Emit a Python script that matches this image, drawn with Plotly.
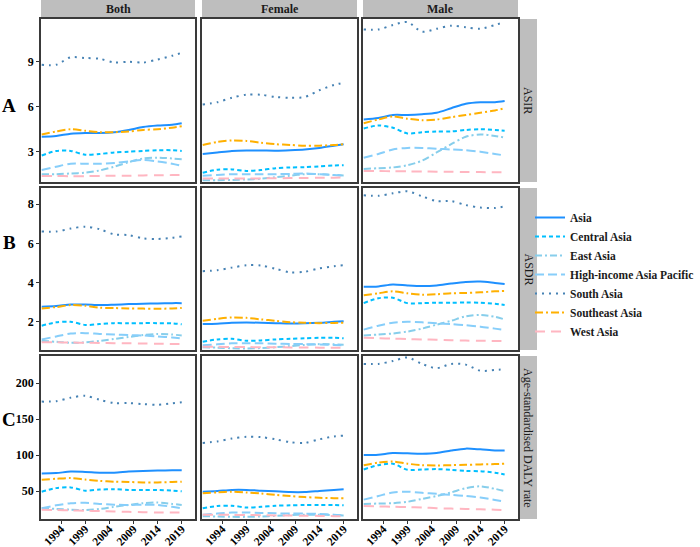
import plotly.graph_objects as go

YEARS = [1990, 1993, 1996, 1999, 2002, 2005, 2008, 2011, 2014, 2017, 2019]
REGIONS = ["Asia", "Central Asia", "East Asia", "High-income Asia Pacific",
           "South Asia", "Southeast Asia", "West Asia"]
SEXES = ["Both", "Female", "Male"]
MEASURES = ["ASIR", "ASDR", "Age-standardised DALY rate"]
ROW_LETTERS = ["A", "B", "C"]
X_TICKS = [1994, 1999, 2004, 2009, 2014, 2019]

# ---- ASIR ----
ASIR_BOTH = {
    "Asia": [4.0, 4.05, 4.2, 4.25, 4.25, 4.3, 4.45, 4.65, 4.75, 4.8, 4.9],
    "Central Asia": [2.75, 3.05, 3.05, 2.8, 2.85, 2.95, 3.0, 3.05, 3.1, 3.1, 3.05],
    "East Asia": [1.5, 1.5, 1.55, 1.6, 1.75, 2.0, 2.3, 2.55, 2.6, 2.55, 2.5],
    "High-income Asia Pacific": [1.78, 2.0, 2.2, 2.2, 2.2, 2.25, 2.35, 2.45, 2.35, 2.2, 2.05],
    "South Asia": [8.8, 8.8, 9.3, 9.25, 9.2, 8.95, 9.0, 8.95, 9.15, 9.4, 9.6],
    "Southeast Asia": [4.15, 4.35, 4.5, 4.4, 4.3, 4.3, 4.35, 4.45, 4.5, 4.6, 4.7],
    "West Asia": [1.38, 1.38, 1.37, 1.37, 1.38, 1.4, 1.4, 1.42, 1.43, 1.44, 1.45],
}
ASIR_FEMALE = {
    "Asia": [2.85, 2.95, 3.05, 3.08, 3.08, 3.07, 3.1, 3.15, 3.25, 3.4, 3.5],
    "Central Asia": [1.6, 1.8, 1.82, 1.72, 1.78, 1.9, 1.95, 1.97, 2.02, 2.08, 2.1],
    "East Asia": [1.1, 1.1, 1.12, 1.15, 1.2, 1.3, 1.4, 1.5, 1.5, 1.45, 1.42],
    "High-income Asia Pacific": [1.4, 1.45, 1.5, 1.5, 1.5, 1.5, 1.52, 1.55, 1.5, 1.45, 1.4],
    "South Asia": [6.15, 6.3, 6.6, 6.8, 6.8, 6.65, 6.6, 6.65, 7.1, 7.45, 7.6],
    "Southeast Asia": [3.45, 3.65, 3.75, 3.72, 3.6, 3.5, 3.45, 3.4, 3.4, 3.45, 3.5],
    "West Asia": [1.22, 1.22, 1.22, 1.22, 1.22, 1.23, 1.24, 1.25, 1.26, 1.27, 1.28],
}
ASIR_MALE = {
    "Asia": [5.15, 5.25, 5.45, 5.45, 5.5, 5.6, 5.9, 6.2, 6.3, 6.3, 6.38],
    "Central Asia": [4.55, 4.75, 4.6, 4.22, 4.3, 4.35, 4.35, 4.45, 4.5, 4.45, 4.4],
    "East Asia": [1.85, 1.9, 1.95, 2.1, 2.4, 2.95, 3.5, 4.0, 4.15, 4.05, 3.95],
    "High-income Asia Pacific": [2.6, 2.85, 3.15, 3.25, 3.25, 3.2, 3.15, 3.1, 3.0, 2.85, 2.75],
    "South Asia": [11.15, 11.15, 11.45, 11.65, 11.0, 11.2, 11.4, 11.3, 11.2, 11.45, 11.65],
    "Southeast Asia": [4.9, 5.15, 5.35, 5.2, 5.1, 5.15, 5.3, 5.45, 5.6, 5.75, 5.9],
    "West Asia": [1.72, 1.71, 1.7, 1.69, 1.68, 1.67, 1.66, 1.65, 1.64, 1.63, 1.62],
}
# ---- ASDR ----
ASDR_BOTH = {
    "Asia": [2.77, 2.8, 2.88, 2.88, 2.85, 2.87, 2.9, 2.92, 2.93, 2.95, 2.95],
    "Central Asia": [1.8, 1.97, 2.0, 1.84, 1.88, 1.93, 1.92, 1.93, 1.93, 1.92, 1.87],
    "East Asia": [1.02, 0.98, 0.93, 0.95, 1.02, 1.12, 1.22, 1.32, 1.38, 1.35, 1.3],
    "High-income Asia Pacific": [1.1, 1.25, 1.4, 1.42, 1.38, 1.35, 1.32, 1.3, 1.25, 1.2, 1.15],
    "South Asia": [6.6, 6.6, 6.75, 6.85, 6.72, 6.45, 6.42, 6.25, 6.22, 6.28, 6.35],
    "Southeast Asia": [2.68, 2.75, 2.85, 2.82, 2.72, 2.7, 2.68, 2.67, 2.66, 2.68, 2.7],
    "West Asia": [0.95, 0.95, 0.94, 0.93, 0.92, 0.91, 0.9, 0.89, 0.88, 0.87, 0.87],
}
ASDR_FEMALE = {
    "Asia": [1.88, 1.9, 1.95, 1.96, 1.95, 1.93, 1.91, 1.92, 1.95, 2.0, 2.03],
    "Central Asia": [0.98, 1.1, 1.13, 1.03, 1.05, 1.1, 1.13, 1.16, 1.18, 1.18, 1.16],
    "East Asia": [0.7, 0.68, 0.65, 0.64, 0.66, 0.7, 0.76, 0.82, 0.86, 0.85, 0.83],
    "High-income Asia Pacific": [0.8, 0.85, 0.9, 0.9, 0.9, 0.88, 0.87, 0.86, 0.84, 0.82, 0.8],
    "South Asia": [4.58, 4.63, 4.76, 4.88, 4.87, 4.7, 4.52, 4.55, 4.72, 4.83, 4.88],
    "Southeast Asia": [2.05, 2.15, 2.22, 2.2, 2.12, 2.05, 1.98, 1.95, 1.93, 1.94, 1.95],
    "West Asia": [0.72, 0.72, 0.71, 0.71, 0.7, 0.7, 0.69, 0.69, 0.68, 0.68, 0.68],
}
ASDR_MALE = {
    "Asia": [3.78, 3.8, 3.9, 3.85, 3.82, 3.85, 3.95, 4.03, 4.05, 3.98, 3.93],
    "Central Asia": [2.95, 3.2, 3.22, 2.95, 2.95, 2.97, 2.97, 2.98, 2.97, 2.92, 2.85],
    "East Asia": [1.3, 1.35, 1.4, 1.5, 1.65, 1.85, 2.05, 2.28, 2.35, 2.25, 2.12],
    "High-income Asia Pacific": [1.6, 1.8, 1.95, 2.0, 1.97, 1.92, 1.88, 1.82, 1.75, 1.65, 1.58],
    "South Asia": [8.45, 8.42, 8.55, 8.65, 8.4, 8.15, 8.15, 7.95, 7.82, 7.8, 7.88],
    "Southeast Asia": [3.35, 3.45, 3.55, 3.45, 3.38, 3.4, 3.45, 3.47, 3.5, 3.55, 3.57],
    "West Asia": [1.18, 1.16, 1.14, 1.12, 1.1, 1.08, 1.06, 1.04, 1.03, 1.02, 1.01],
}
# ---- DALY ----
DALY_BOTH = {
    "Asia": [74.5, 75, 77, 76.5, 75.5, 75.5, 77, 78, 78.5, 79, 79],
    "Central Asia": [49, 54, 55, 50.5, 52, 52.5, 51.5, 51.5, 51.5, 50.5, 49.5],
    "East Asia": [26, 25, 24, 23.5, 25, 28, 30.5, 33, 34, 32, 30.5],
    "High-income Asia Pacific": [26, 30, 33, 33.5, 32, 31, 30.5, 31, 30.5, 28, 26],
    "South Asia": [174.5, 175, 180, 182.5, 177, 172.5, 172.5, 171, 170, 172, 173.5],
    "Southeast Asia": [65.5, 67, 68, 66, 64, 63, 62.5, 62, 62, 62.5, 63],
    "West Asia": [24, 23.5, 23, 22.5, 22, 21.5, 21, 20.5, 20, 20, 20],
}
DALY_FEMALE = {
    "Asia": [49, 50, 51.5, 51.5, 50.5, 49.5, 48.5, 48.5, 50, 51.5, 52.5],
    "Central Asia": [26, 29, 29.5, 27, 28, 29.5, 30, 30.5, 30.5, 30.5, 30],
    "East Asia": [15, 14.5, 14, 14, 14.5, 15.5, 16.5, 17, 17, 16.5, 16],
    "High-income Asia Pacific": [17, 18.5, 20, 20, 19.5, 19, 18.5, 18.5, 18, 17, 16],
    "South Asia": [117, 119, 123, 125.5, 125, 122, 118, 117, 122, 126, 127],
    "Southeast Asia": [47, 48, 49, 48, 46.5, 44.5, 43, 41.5, 40.5, 40, 40],
    "West Asia": [17, 17, 16.8, 16.5, 16.3, 16, 15.8, 15.5, 15.3, 15, 15],
}
DALY_MALE = {
    "Asia": [100, 100.5, 103, 102.5, 102, 103, 106.5, 109, 108, 106.5, 106.5],
    "Central Asia": [80, 86, 88, 79.5, 80, 80.5, 79.5, 78, 77.5, 75.5, 73],
    "East Asia": [32, 32.5, 33, 35, 39, 43, 48, 54, 56.5, 53, 50],
    "High-income Asia Pacific": [38, 43, 48, 49, 47.5, 46, 44.5, 43, 41, 37.5, 35],
    "South Asia": [227, 227, 231, 236, 227, 221, 227, 226, 217.5, 218.5, 219.5],
    "Southeast Asia": [86, 89.5, 91, 88, 86, 85.5, 86, 86.5, 87, 87.5, 88],
    "West Asia": [29, 28.5, 28, 27.5, 27, 26, 25.5, 25, 24.5, 24, 23.5],
}

PANELS = [[ASIR_BOTH, ASIR_FEMALE, ASIR_MALE],
          [ASDR_BOTH, ASDR_FEMALE, ASDR_MALE],
          [DALY_BOTH, DALY_FEMALE, DALY_MALE]]
Y_TICKS = [[3, 6, 9], [2, 4, 6, 8], [50, 100, 150, 200]]
Y_RANGES = [[0.98, 11.85], [0.56, 8.82], [11, 238]]
X_RANGE = [1989.85, 2021.75]

# ---- styles ----
COLORS = {
    "Asia": "#1E90FF",
    "Central Asia": "#00BFFF",
    "East Asia": "#87CEEB",
    "High-income Asia Pacific": "#87CEFA",
    "South Asia": "#4682B4",
    "Southeast Asia": "#FFB000",
    "West Asia": "#FFB6C1",
}
DASHES = {
    "Asia": "solid",
    "Central Asia": "4px,3px",
    "East Asia": "7px,3px,2px,3px",
    "High-income Asia Pacific": "9px,4px",
    "South Asia": "2px,5px",
    "Southeast Asia": "8px,3px,2px,3px",
    "West Asia": "10px,6px",
}
FONT = "Liberation Serif, Times New Roman, serif"
W, H = 700, 547
COL_PX = [(41, 195), (202, 357), (363, 518)]
ROW_PX = [(19, 182), (188, 350), (356, 519)]
LETTER_Y_PX = [106, 242, 419]

fig = go.Figure()
layout_axes = {}
for r in range(3):
    for c in range(3):
        k = r * 3 + c + 1
        data = PANELS[r][c]
        for reg in REGIONS:
            fig.add_trace(go.Scatter(
                x=YEARS, y=data[reg], mode="lines", name=reg,
                legendgroup=reg, showlegend=(k == 1),
                line=dict(color=COLORS[reg], dash=DASHES[reg], width=2,
                          shape="spline", smoothing=0.8),
                xaxis=f"x{k}", yaxis=f"y{k}", hoverinfo="skip"))
        x0, x1 = COL_PX[c]
        y0, y1 = ROW_PX[r]
        xa = dict(domain=[x0 / W, x1 / W], range=X_RANGE, anchor=f"y{k}",
                  showgrid=False, zeroline=False, showline=True, mirror=True,
                  linecolor="#3a3a3a", linewidth=1.5,
                  tickvals=X_TICKS, ticks="outside" if r == 2 else "",
                  ticklen=3, tickcolor="#333", showticklabels=(r == 2),
                  tickangle=-45, ticklabelstandoff=-6,
                  tickfont=dict(family=FONT, size=11.5, color="black", weight="bold"))
        ya = dict(domain=[1 - y1 / H, 1 - y0 / H], range=Y_RANGES[r], anchor=f"x{k}",
                  showgrid=False, zeroline=False, showline=True, mirror=True,
                  linecolor="#3a3a3a", linewidth=1.5,
                  tickvals=Y_TICKS[r], ticks="outside" if c == 0 else "",
                  ticklen=3, tickcolor="#333", showticklabels=(c == 0),
                  tickfont=dict(family=FONT, size=12, color="black", weight="bold"))
        layout_axes["xaxis" if k == 1 else f"xaxis{k}"] = xa
        layout_axes["yaxis" if k == 1 else f"yaxis{k}"] = ya

shapes = []
annotations = []
# top strips
for c, sex in enumerate(SEXES):
    x0, x1 = COL_PX[c]
    shapes.append(dict(type="rect", xref="paper", yref="paper",
                       x0=x0 / W, x1=x1 / W, y0=1 - 17.5 / H, y1=1,
                       fillcolor="#BEBEBE", line=dict(width=0), layer="below"))
    annotations.append(dict(text=sex, xref="paper", yref="paper",
                            x=(x0 + x1) / 2 / W, y=1 - 9 / H, showarrow=False,
                            xanchor="center", yanchor="middle",
                            font=dict(family=FONT, size=12, color="#1a1a1a", weight="bold")))
# right strips and row letters
for r, meas in enumerate(MEASURES):
    y0, y1 = ROW_PX[r]
    shapes.append(dict(type="rect", xref="paper", yref="paper",
                       x0=519.5 / W, x1=537 / W, y0=1 - y1 / H, y1=1 - y0 / H,
                       fillcolor="#BEBEBE", line=dict(width=0), layer="below"))
    annotations.append(dict(text=meas, xref="paper", yref="paper",
                            x=528.5 / W, y=1 - (y0 + y1) / 2 / H, showarrow=False,
                            textangle=90, xanchor="center", yanchor="middle",
                            font=dict(family=FONT, size=12, color="#1a1a1a")))
    annotations.append(dict(text=ROW_LETTERS[r], xref="paper", yref="paper",
                            x=9 / W, y=1 - LETTER_Y_PX[r] / H, showarrow=False,
                            xanchor="center", yanchor="middle",
                            font=dict(family=FONT, size=19, color="black", weight="bold")))

fig.update_layout(
    width=W, height=H,
    margin=dict(l=0, r=0, t=0, b=0, autoexpand=False),
    paper_bgcolor="white", plot_bgcolor="white",
    shapes=shapes, annotations=annotations,
    showlegend=True,
    legend=dict(x=530 / W, y=1 - 203 / H, xanchor="left", yanchor="top",
                font=dict(family=FONT, size=11.5, color="#1a1a1a", weight="bold"),
                itemwidth=30, tracegroupgap=0, bgcolor="rgba(0,0,0,0)"),
    **layout_axes,
)

fig.write_html("out.html", config={"displayModeBar": False},
               post_script="document.body.style.margin='0';document.body.style.overflow='hidden';")
